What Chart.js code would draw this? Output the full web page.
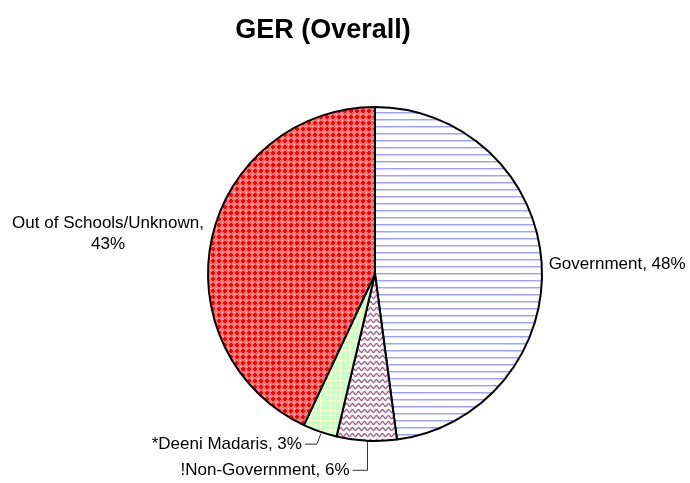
<!DOCTYPE html>
<html>
<head>
<meta charset="utf-8">
<script src="https://cdn.jsdelivr.net/npm/chart.js@4.4.0/dist/chart.umd.min.js"></script>
<style>
  body { margin: 0; background: #fff; }
  #wrap { width: 690px; height: 483px; }
</style>
</head>
<body>
<div id="wrap"><canvas id="gerChart" width="690" height="483"></canvas></div>
<script>
// values (percent of the circle)
const categories = ['Government', '!Non-Government', '*Deeni Madaris', 'Out of Schools/Unknown'];
const shares = [47.9, 5.8, 3.3, 43.0];
const shownPct = ['48%', '6%', '3%', '43%'];
const chartTitle = 'GER (Overall)';

const FONT = "'Liberation Sans', Arial, sans-serif";

function makeTile(w, h, draw) {
    const c = document.createElement('canvas');
    c.width = w;
    c.height = h;
    const g = c.getContext('2d');
    draw(g, w, h);
    return document.getElementById('gerChart').getContext('2d').createPattern(c, 'repeat');
}

// horizontal blue stripes
const stripes = makeTile(8, 7, function(g, w) {
    g.fillStyle = '#fff';
    g.fillRect(0, 0, w, 7);
    g.fillStyle = '#9f9fff';
    g.fillRect(0, 0, w, 1);
    g.fillStyle = '#d2d2ff';
    g.fillRect(0, 1, w, 1);
});

// purple waves
const waves = makeTile(6, 6, function(g, w, h) {
    g.fillStyle = '#fff';
    g.fillRect(0, 0, w, h);
    g.strokeStyle = '#a65a86';
    g.lineWidth = 1.3;
    g.beginPath();
    for (let x = -1; x <= 7; x += 0.5) {
        const y = 3 + 1.5 * Math.sin(2 * Math.PI * x / 6);
        if (x === -1) g.moveTo(x, y); else g.lineTo(x, y);
    }
    g.stroke();
});

// light green grid
const grid = makeTile(5, 5, function(g, w, h) {
    g.fillStyle = '#c8ffc8';
    g.fillRect(0, 0, w, h);
    g.fillStyle = '#f6ffcc';
    g.fillRect(0, 0, w, 1);
    g.fillRect(0, 0, 1, h);
});

// red lattice with small crosses
const lattice = makeTile(6, 6, function(g, w, h) {
    g.fillStyle = '#ff7070';
    g.fillRect(0, 0, w, h);
    g.fillStyle = '#ff0000';
    g.fillRect(2, 1, 2, 4);
    g.fillRect(1, 2, 4, 2);
    g.fillStyle = '#ffd0d0';
    g.fillRect(0, 0, 1, 1);
});

const fills = [stripes, waves, grid, lattice];

// title + data labels with leader lines
const labelPlugin = {
    id: 'gerLabels',
    afterDraw(chart) {
        const ctx = chart.ctx;
        const meta = chart.getDatasetMeta(0);
        ctx.save();
        ctx.fillStyle = '#000';
        ctx.font = 'bold 27px ' + FONT;
        ctx.textAlign = 'center';
        ctx.textBaseline = 'alphabetic';
        ctx.fillText(chartTitle, 323, 38);

        ctx.font = '17px ' + FONT;
        ctx.textBaseline = 'middle';
        ctx.strokeStyle = '#333';
        ctx.lineWidth = 1;

        meta.data.forEach(function(arc, i) {
            const mid = (arc.startAngle + arc.endAngle) / 2;
            const r = arc.outerRadius;
            const px = arc.x + Math.cos(mid) * r;
            const py = arc.y + Math.sin(mid) * r;
            const name = categories[i];
            const txt = name + ', ' + shownPct[i];
            if (i === 0) {
                ctx.textAlign = 'left';
                ctx.fillText(txt, px + 7, py + 1);
            } else if (i === 1) {
                const ey = py + 29;
                ctx.beginPath();
                ctx.moveTo(Math.round(px) + 0.5, py + 1);
                ctx.lineTo(Math.round(px) + 0.5, ey + 0.5);
                ctx.lineTo(px - 14, ey + 0.5);
                ctx.stroke();
                ctx.textAlign = 'right';
                ctx.fillText(txt, px - 17, ey + 1);
            } else if (i === 2) {
                const ex = px - 3, ey = py + 12;
                ctx.beginPath();
                ctx.moveTo(px + 1, py + 2);
                ctx.lineTo(ex, ey + 0.5);
                ctx.lineTo(ex - 12, ey + 0.5);
                ctx.stroke();
                ctx.textAlign = 'right';
                ctx.fillText(txt, ex - 15, ey + 1);
            } else {
                ctx.textAlign = 'center';
                const cx = px - 104;
                ctx.fillText(name + ',', cx, py - 14);
                ctx.fillText(shownPct[i], cx, py + 7);
            }
        });
        ctx.restore();
    }
};

new Chart(document.getElementById('gerChart'), {
    type: 'pie',
    data: {
        labels: categories,
        datasets: [{
            data: shares,
            backgroundColor: fills,
            borderColor: '#000',
            borderWidth: 2
        }]
    },
    options: {
        responsive: false,
        animation: false,
        layout: {
            padding: { left: 207, right: 147, top: 106, bottom: 41 }
        },
        plugins: {
            legend: { display: false },
            title: { display: false },
            tooltip: { enabled: false }
        }
    },
    plugins: [labelPlugin]
});
</script>
</body>
</html>
